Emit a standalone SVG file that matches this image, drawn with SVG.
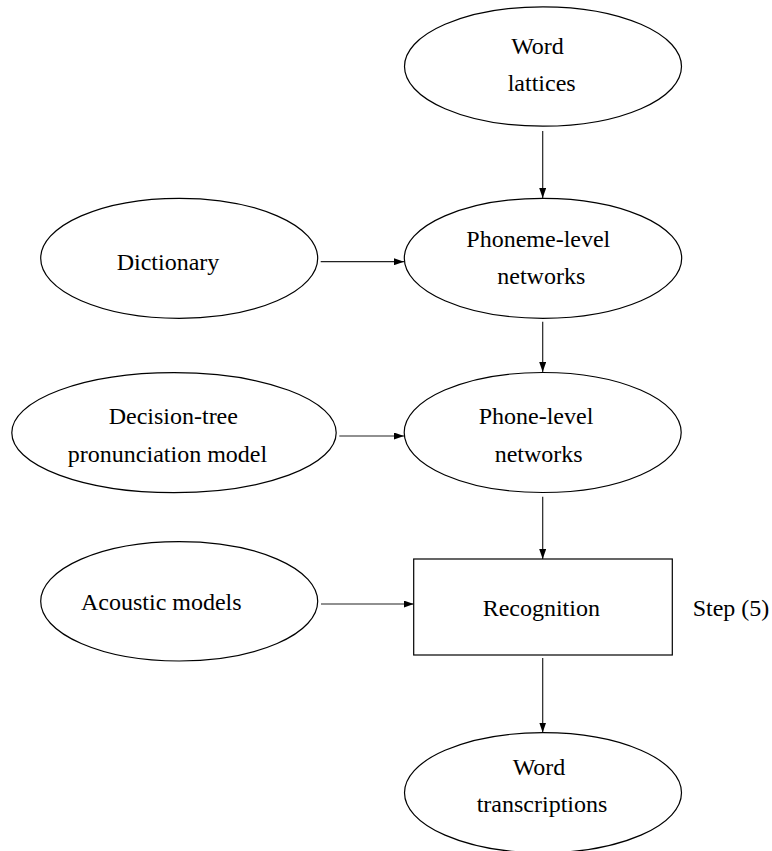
<svg xmlns="http://www.w3.org/2000/svg" width="772" height="851" viewBox="0 0 772 851">
<style>
.n{fill:#fff;stroke:#000;stroke-width:1.2}
.t{font-family:"Liberation Serif","Times New Roman",serif;font-size:24px;fill:#000;text-anchor:middle}
.e{stroke:#222;stroke-width:1.2;fill:none;marker-end:url(#ah)}
</style>
<defs>
<marker id="ah" markerWidth="10" markerHeight="7" refX="10" refY="3.5" orient="auto" markerUnits="userSpaceOnUse">
<path d="M0,0 L10,3.5 L0,7 Z" fill="#000"/>
</marker>
</defs>
<rect width="772" height="851" fill="#fff"/>
<g id="connectors">
<line class="e" x1="542.7" y1="131" x2="542.7" y2="198"/>
<line class="e" x1="320.7" y1="261.7" x2="404" y2="261.7"/>
<line class="e" x1="542.7" y1="321.7" x2="542.7" y2="372"/>
<line class="e" x1="339.3" y1="436" x2="404" y2="436"/>
<line class="e" x1="542.7" y1="496.7" x2="542.7" y2="559"/>
<line class="e" x1="321" y1="604" x2="413.7" y2="604"/>
<line class="e" x1="542.7" y1="658" x2="542.7" y2="732.5"/>
</g>
<g id="word-lattices">
<ellipse class="n" cx="543" cy="66.5" rx="138.5" ry="59.7"/>
<text class="t" x="537.5" y="54.3">Word</text>
<text class="t" x="541.7" y="90.7">lattices</text>
</g>
<g id="dictionary">
<ellipse class="n" cx="179.2" cy="258.3" rx="138.5" ry="60"/>
<text class="t" x="168" y="270">Dictionary</text>
</g>
<g id="phoneme-level">
<ellipse class="n" cx="543" cy="258.3" rx="138.7" ry="60"/>
<text class="t" x="538.3" y="246.7">Phoneme-level</text>
<text class="t" x="541.3" y="284.3">networks</text>
</g>
<g id="decision-tree">
<ellipse class="n" cx="174" cy="432.7" rx="162.2" ry="60"/>
<text class="t" x="173.3" y="424">Decision-tree</text>
<text class="t" x="167.5" y="461.7">pronunciation model</text>
</g>
<g id="phone-level">
<ellipse class="n" cx="542.7" cy="432.5" rx="138.5" ry="60"/>
<text class="t" x="536" y="424.3">Phone-level</text>
<text class="t" x="538.7" y="461.7">networks</text>
</g>
<g id="acoustic-models">
<ellipse class="n" cx="179.2" cy="601.3" rx="138.5" ry="59.7"/>
<text class="t" x="161.3" y="610">Acoustic models</text>
</g>
<g id="recognition">
<rect class="n" x="413.7" y="559" width="258.6" height="96" stroke="#333"/>
<text class="t" x="541.3" y="615.7">Recognition</text>
</g>
<g id="step-label">
<text class="t" x="692.7" y="615.7" style="text-anchor:start">Step (5)</text>
</g>
<g id="word-transcriptions">
<ellipse class="n" cx="543" cy="792.7" rx="138.5" ry="60"/>
<text class="t" x="539" y="775">Word</text>
<text class="t" x="542" y="812">transcriptions</text>
</g>
</svg>
